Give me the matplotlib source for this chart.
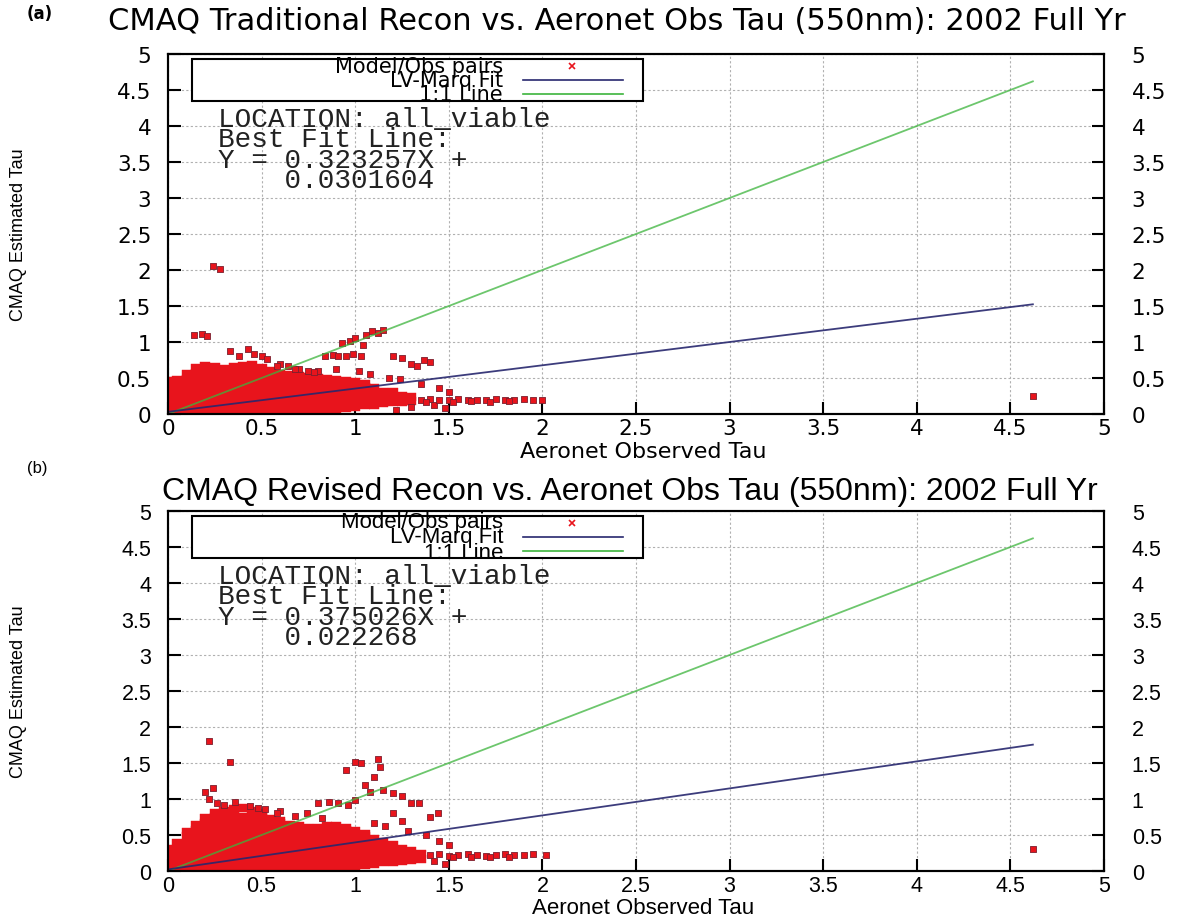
import matplotlib
matplotlib.use("Agg")
import matplotlib.pyplot as plt
from matplotlib.patches import Rectangle
from matplotlib.lines import Line2D

# ---------------- data ----------------
slope_a, icept_a = 0.323257, 0.0301604
slope_b, icept_b = 0.375026, 0.022268
fit_xmax = 4.62

ticks = [0, 0.5, 1, 1.5, 2, 2.5, 3, 3.5, 4, 4.5, 5]
tick_labels = ["0", "0.5", "1", "1.5", "2", "2.5", "3", "3.5", "4", "4.5", "5"]

# dense core of panel (a): observed tau columns and the estimated tau values in each
core_a_cols = [0.01, 0.05, 0.10, 0.15, 0.20, 0.25, 0.30, 0.35, 0.40, 0.45, 0.50,
               0.55, 0.60, 0.65, 0.70, 0.75, 0.80, 0.85, 0.90, 0.95, 1.00, 1.05,
               1.10, 1.15, 1.20, 1.25, 1.30]
core_a_vals = [
    [0.02, 0.10, 0.20, 0.30, 0.40, 0.46],
    [0.03, 0.12, 0.21, 0.30, 0.39, 0.47],
    [0.03, 0.12, 0.21, 0.30, 0.39, 0.48, 0.56],
    [0.03, 0.12, 0.21, 0.30, 0.39, 0.48, 0.57, 0.64],
    [0.03, 0.12, 0.21, 0.30, 0.39, 0.48, 0.57, 0.66],
    [0.03, 0.12, 0.21, 0.30, 0.39, 0.48, 0.57, 0.65],
    [0.03, 0.12, 0.21, 0.30, 0.39, 0.48, 0.57, 0.63],
    [0.03, 0.12, 0.21, 0.30, 0.39, 0.48, 0.57, 0.65],
    [0.03, 0.12, 0.21, 0.30, 0.39, 0.48, 0.57, 0.66],
    [0.03, 0.12, 0.21, 0.30, 0.39, 0.48, 0.57, 0.68],
    [0.03, 0.12, 0.21, 0.30, 0.39, 0.48, 0.57, 0.64],
    [0.03, 0.12, 0.21, 0.30, 0.39, 0.48, 0.57, 0.60],
    [0.03, 0.12, 0.21, 0.30, 0.39, 0.48, 0.56],
    [0.03, 0.12, 0.21, 0.30, 0.39, 0.48, 0.54],
    [0.03, 0.12, 0.21, 0.30, 0.39, 0.48, 0.53],
    [0.03, 0.12, 0.21, 0.30, 0.39, 0.48, 0.52],
    [0.04, 0.12, 0.21, 0.30, 0.39, 0.48, 0.50],
    [0.05, 0.12, 0.21, 0.30, 0.39, 0.48],
    [0.07, 0.14, 0.23, 0.32, 0.41, 0.47],
    [0.08, 0.16, 0.25, 0.34, 0.43, 0.46],
    [0.10, 0.18, 0.27, 0.36, 0.44],
    [0.12, 0.20, 0.29, 0.37, 0.41],
    [0.13, 0.21, 0.30, 0.36],
    [0.15, 0.23, 0.31],
    [0.16, 0.24, 0.30],
    [0.17, 0.25],
    [0.18, 0.24],
]
# scattered pairs of panel (a)
out_a_x = [0.24, 0.28, 0.14, 0.18, 0.21, 0.33, 0.43, 0.46, 0.50, 0.53, 0.38, 0.60,
           0.64, 0.70, 0.75, 0.80, 0.84, 0.88, 0.91, 0.95, 0.99, 1.03, 0.93, 0.97,
           1.00, 1.06, 1.09, 1.12, 1.15, 1.04, 1.20, 1.25, 1.30, 1.33, 1.37, 1.40,
           1.02, 1.08, 0.90, 1.18, 1.24, 1.35, 1.45, 1.50, 1.48, 1.42, 1.30, 1.22,
           1.35, 1.40, 1.45, 1.50, 1.55, 1.60, 1.65, 1.70, 1.75, 1.80, 1.85, 1.90,
           1.95, 1.38, 1.52, 1.62, 1.72, 1.82, 2.00, 4.62, 0.58, 0.68, 0.78]
out_a_y = [2.05, 2.02, 1.10, 1.11, 1.09, 0.88, 0.90, 0.84, 0.80, 0.76, 0.80, 0.70,
           0.66, 0.62, 0.60, 0.60, 0.80, 0.82, 0.80, 0.81, 0.83, 0.80, 0.98, 1.02,
           1.05, 1.10, 1.15, 1.12, 1.16, 0.96, 0.80, 0.78, 0.70, 0.66, 0.75, 0.72,
           0.60, 0.56, 0.62, 0.50, 0.48, 0.42, 0.36, 0.30, 0.08, 0.12, 0.10, 0.06,
           0.20, 0.21, 0.19, 0.20, 0.21, 0.20, 0.19, 0.20, 0.21, 0.20, 0.20, 0.21,
           0.20, 0.17, 0.17, 0.18, 0.17, 0.18, 0.20, 0.25, 0.66, 0.62, 0.58]

# dense core of panel (b)
core_b_cols = [0.01, 0.05, 0.10, 0.15, 0.20, 0.25, 0.30, 0.35, 0.40, 0.45, 0.50,
               0.55, 0.60, 0.65, 0.70, 0.75, 0.80, 0.85, 0.90, 0.95, 1.00, 1.05,
               1.10, 1.15, 1.20, 1.25, 1.30, 1.35]
core_b_vals = [
    [0.02, 0.10, 0.20, 0.30],
    [0.03, 0.12, 0.21, 0.30, 0.39],
    [0.03, 0.12, 0.21, 0.30, 0.39, 0.48, 0.54],
    [0.03, 0.12, 0.21, 0.30, 0.39, 0.48, 0.57, 0.64],
    [0.03, 0.12, 0.21, 0.30, 0.39, 0.48, 0.57, 0.66, 0.74],
    [0.03, 0.12, 0.21, 0.30, 0.39, 0.48, 0.57, 0.66, 0.75, 0.80],
    [0.03, 0.12, 0.21, 0.30, 0.39, 0.48, 0.57, 0.66, 0.75, 0.84],
    [0.03, 0.12, 0.21, 0.30, 0.39, 0.48, 0.57, 0.66, 0.75, 0.86],
    [0.03, 0.12, 0.21, 0.30, 0.39, 0.48, 0.57, 0.66, 0.75, 0.87],
    [0.03, 0.12, 0.21, 0.30, 0.39, 0.48, 0.57, 0.66, 0.75, 0.84],
    [0.03, 0.12, 0.21, 0.30, 0.39, 0.48, 0.57, 0.66, 0.75, 0.80],
    [0.03, 0.12, 0.21, 0.30, 0.39, 0.48, 0.57, 0.66, 0.72],
    [0.03, 0.12, 0.21, 0.30, 0.39, 0.48, 0.57, 0.66, 0.70],
    [0.03, 0.12, 0.21, 0.30, 0.39, 0.48, 0.57, 0.64],
    [0.03, 0.12, 0.21, 0.30, 0.39, 0.48, 0.57, 0.62],
    [0.03, 0.12, 0.21, 0.30, 0.39, 0.48, 0.57, 0.60],
    [0.03, 0.12, 0.21, 0.30, 0.39, 0.48, 0.57, 0.60],
    [0.03, 0.12, 0.21, 0.30, 0.39, 0.48, 0.57, 0.62],
    [0.04, 0.12, 0.21, 0.30, 0.39, 0.48, 0.57, 0.62],
    [0.05, 0.13, 0.22, 0.31, 0.40, 0.49, 0.57, 0.60],
    [0.06, 0.14, 0.23, 0.32, 0.41, 0.48, 0.55],
    [0.08, 0.16, 0.25, 0.34, 0.43, 0.48, 0.52],
    [0.10, 0.18, 0.27, 0.36, 0.45],
    [0.12, 0.20, 0.29, 0.36, 0.40],
    [0.13, 0.21, 0.29, 0.36],
    [0.14, 0.22, 0.30],
    [0.15, 0.23, 0.28],
    [0.16, 0.24],
]
# scattered pairs of panel (b)
out_b_x = [0.22, 0.33, 0.20, 0.24, 0.22, 0.26, 0.30, 0.36, 0.44, 0.48, 0.52,
           0.95, 1.00, 1.03, 1.12, 1.13, 1.10, 1.05, 1.08, 1.15, 1.20, 1.25,
           0.80, 0.86, 0.91, 0.96, 1.00, 1.30, 1.34, 1.40, 1.44, 1.20, 1.25,
           0.68, 0.74, 0.82, 1.10, 1.16, 1.28, 1.38, 1.45, 1.50, 1.48, 1.42,
           1.40, 1.45, 1.50, 1.55, 1.60, 1.65, 1.70, 1.75, 1.80, 1.85, 1.90,
           1.95, 1.52, 1.62, 1.72, 1.82, 2.02, 4.62, 0.60, 0.58]
out_b_y = [1.80, 1.52, 1.10, 1.15, 1.00, 0.95, 0.92, 0.96, 0.90, 0.88, 0.86,
           1.40, 1.52, 1.50, 1.55, 1.45, 1.30, 1.20, 1.10, 1.12, 1.08, 1.04,
           0.95, 0.96, 0.94, 0.92, 0.98, 0.95, 0.95, 0.75, 0.80, 0.80, 0.70,
           0.76, 0.80, 0.74, 0.66, 0.62, 0.56, 0.50, 0.42, 0.36, 0.10, 0.14,
           0.22, 0.23, 0.21, 0.22, 0.23, 0.22, 0.21, 0.22, 0.23, 0.22, 0.22,
           0.23, 0.19, 0.20, 0.19, 0.20, 0.22, 0.30, 0.84, 0.80]

legend_labels = ["Model/Obs pairs", "LV-Marq Fit", "1:1 Line"]

panels = [
    dict(tag="(a)", title="CMAQ Traditional Recon vs. Aeronet Obs Tau (550nm): 2002 Full Yr",
         cols=core_a_cols, vals=core_a_vals, ox=out_a_x, oy=out_a_y,
         slope=slope_a, icept=icept_a,
         eq=["LOCATION: all_viable", "Best Fit Line:",
             "Y = %.6fX +" % slope_a, "    %.7f" % icept_a],
         font="DejaVu Sans", title_size=22, tick_size=15.5, title_x=617,
         xl_size=16, leg_size=15),
    dict(tag="(b)", title="CMAQ Revised Recon vs. Aeronet Obs Tau (550nm): 2002 Full Yr",
         cols=core_b_cols, vals=core_b_vals, ox=out_b_x, oy=out_b_y,
         slope=slope_b, icept=icept_b,
         eq=["LOCATION: all_viable", "Best Fit Line:",
             "Y = %.6fX +" % slope_b, "    0.022268"],
         font="Liberation Sans", title_size=23, tick_size=15.5, title_x=630,
         xl_size=16, leg_size=16),
]

RED = "#e8141c"
EDGE = "#7a1f2e"
GREEN = "#3cb43c"
NAVY = "#27276e"

W, H = 1191, 920
fig = plt.figure(figsize=(W / 100, H / 100), dpi=100)

rect_marker = [(-1, -0.8), (1, -0.8), (1, 0.8), (-1, 0.8), (-1, -0.8)]

px_left, px_right = 168, 1104
layouts = [dict(top=55, bottom=415, title_y=22, tag_y=14, xl_y=452, yl_y=235),
           dict(top=512, bottom=872, title_y=492, tag_y=469, xl_y=909, yl_y=692)]

for p, L in zip(panels, layouts):
    ax = fig.add_axes([px_left / W, 1 - L["bottom"] / H,
                       (px_right - px_left) / W, (L["bottom"] - L["top"]) / H])
    fam = [p["font"], "DejaVu Sans"]
    ax.set_xlim(0, 5)
    ax.set_ylim(0, 5)

    # core points
    cx, cy = [], []
    for x, ys in zip(p["cols"], p["vals"]):
        for y in ys:
            cx.append(x)
            cy.append(y)
    ax.scatter(cx, cy, marker=rect_marker, s=62, color=RED, linewidths=0.3,
               edgecolor=RED, zorder=2)
    ax.scatter(p["ox"], p["oy"], marker=rect_marker, s=22, facecolor=RED,
               edgecolor=EDGE, linewidths=0.6, zorder=2)

    # lines
    xs = [0, fit_xmax]
    ax.plot(xs, xs, color=GREEN, lw=1.3, alpha=0.75, zorder=3)
    ax.plot(xs, [p["icept"], p["icept"] + p["slope"] * fit_xmax], color=NAVY,
            lw=1.3, alpha=0.9, zorder=3)

    # grid & ticks
    ax.set_xticks(ticks)
    ax.set_yticks(ticks)
    ax.set_xticklabels(tick_labels)
    ax.set_yticklabels(tick_labels)
    ax.grid(True, color="#b0b0b0", linestyle=(0, (2, 2)), lw=0.8, zorder=0)
    ax.set_axisbelow(True)
    ax.tick_params(axis="both", direction="in", length=9, width=1.5,
                   labelsize=p["tick_size"], colors="black")
    ax.tick_params(axis="y", left=True, right=False, pad=12)
    ax.tick_params(axis="x", top=False, pad=3)
    for lab in ax.get_yticklabels() + ax.get_xticklabels():
        lab.set_family(fam)
    for sp in ax.spines.values():
        sp.set_linewidth(1.5)

    # right-hand axis labels
    axr = ax.twinx()
    axr.set_ylim(0, 5)
    axr.set_yticks(ticks)
    axr.set_yticklabels(tick_labels)
    axr.tick_params(axis="y", direction="in", length=9, width=1.5,
                    labelsize=p["tick_size"], pad=20)
    for lab in axr.get_yticklabels():
        lab.set_family(fam)
    for sp in axr.spines.values():
        sp.set_linewidth(1.5)

    def fx(px):
        return (px - px_left) / (px_right - px_left)

    def fy(py):
        return (L["bottom"] - py) / (L["bottom"] - L["top"])

    # legend box (gnuplot style: text right aligned, sample on the right)
    box_top = L["top"] + 5
    box_bot = L["top"] + 47
    ax.add_patch(Rectangle((fx(192), fy(box_bot)), fx(643) - fx(192),
                           fy(box_top) - fy(box_bot), transform=ax.transAxes,
                           facecolor="white", edgecolor="black", lw=1.5, zorder=5))
    row_py = [L["top"] + 12, L["top"] + 26, L["top"] + 40]
    ax.text(fx(503), fy(row_py[1]), "\n".join(legend_labels), transform=ax.transAxes,
            ha="right", va="center", multialignment="right", fontsize=p["leg_size"],
            linespacing=0.64, family=fam, zorder=6)
    ax.plot([fx(572)], [fy(row_py[0])], marker="x", color=RED, ms=4, mew=1.2,
            transform=ax.transAxes, zorder=6, linestyle="none")
    ax.add_line(Line2D([fx(523), fx(623)], [fy(row_py[1])] * 2, color=NAVY,
                       lw=1.2, transform=ax.transAxes, zorder=6))
    ax.add_line(Line2D([fx(523), fx(623)], [fy(row_py[2])] * 2, color=GREEN,
                       lw=1.2, transform=ax.transAxes, zorder=6))

    # fit text block
    ax.text(fx(218), fy(L["top"] + 52), "\n".join(p["eq"]), transform=ax.transAxes,
            ha="left", va="top", fontsize=20, linespacing=0.72,
            family=["Liberation Mono", "DejaVu Sans Mono"], color="#222222", zorder=6)

    # titles & labels
    fig.text(p["title_x"] / W, 1 - L["title_y"] / H, p["title"], ha="center",
             va="center", fontsize=p["title_size"], family=fam)
    fig.text(27 / W, 1 - L["tag_y"] / H, p["tag"], ha="left", va="center",
             fontsize=12, family=fam,
             fontweight="bold" if p["tag"] == "(a)" else "normal")
    fig.text(643 / W, 1 - L["xl_y"] / H, "Aeronet Observed Tau", ha="center",
             va="center", fontsize=p["xl_size"], family=fam)
    fig.text(19 / W, 1 - L["yl_y"] / H, "CMAQ Estimated Tau", ha="center",
             va="center", rotation=90, fontsize=13,
             family=["Liberation Sans", "DejaVu Sans"])

fig.savefig("out.png", dpi=100)
